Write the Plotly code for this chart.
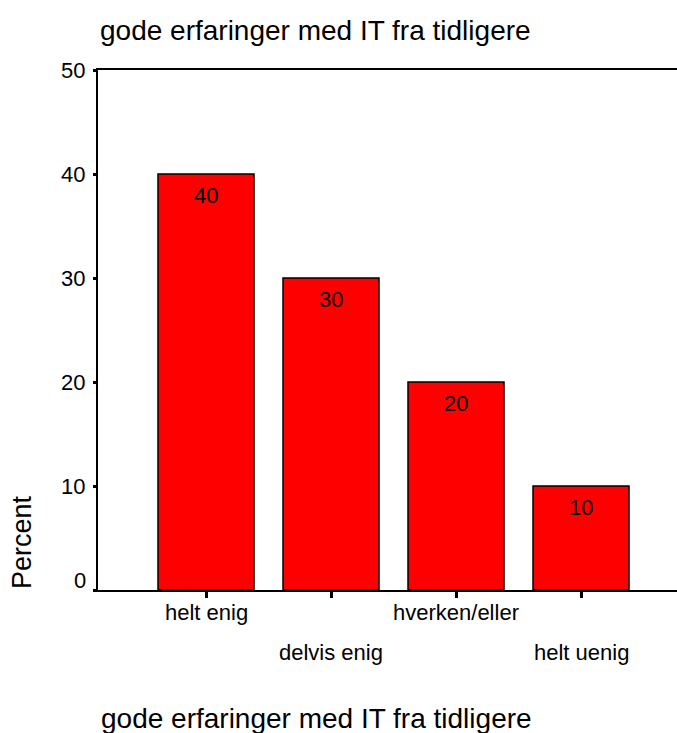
import plotly.graph_objects as go

categories = ["helt enig", "delvis enig", "hverken/eller", "helt uenig"]
percent = [40, 30, 20, 10]
y_ticks = [0, 10, 20, 30, 40, 50]
title_text = "gode erfaringer med IT fra tidligere"
y_title = "Percent"

FONT = "Liberation Sans, Arial, sans-serif"
idx = list(range(len(categories)))

fig = go.Figure()
fig.add_trace(go.Bar(
    x=idx, y=percent, width=0.768,
    marker=dict(color="#FF0000", line=dict(color="#000000", width=1.5)),
    hoverinfo="skip",
))

annotations = []
# value labels inside bars near top
for i, v in zip(idx, percent):
    annotations.append(dict(x=i, y=v, xref="x", yref="y", text=str(v), showarrow=False,
                            yanchor="middle", yshift=-21,
                            font=dict(family=FONT, size=22, color="black")))
# staggered category labels
for i, c in zip(idx, categories):
    annotations.append(dict(x=i, y=0, xref="x", yref="y", text=c, showarrow=False,
                            yanchor="middle", yshift=-22 if i % 2 == 0 else -62,
                            font=dict(family=FONT, size=22, color="black")))
# zero tick label (raised)
annotations.append(dict(x=0, y=0, xref="paper", yref="y", text=str(y_ticks[0]), showarrow=False,
                        xanchor="right", xshift=-10, yanchor="middle", yshift=10,
                        font=dict(family=FONT, size=22, color="black")))
# y axis title
annotations.append(dict(x=0, y=(590 - 542) / 520, xref="paper", yref="paper", text=y_title,
                        showarrow=False, textangle=-90, xanchor="center", yanchor="middle",
                        xshift=-76, font=dict(family=FONT, size=27, color="black")))
# bottom axis title
annotations.append(dict(x=0, y=0, xref="paper", yref="paper", text=title_text,
                        showarrow=False, xanchor="left", yanchor="middle", xshift=1, yshift=-128,
                        font=dict(family=FONT, size=28, color="black")))

fig.update_layout(
    width=677, height=733,
    margin=dict(l=98, r=0, t=70, b=143),
    paper_bgcolor="white", plot_bgcolor="white",
    showlegend=False,
    title=dict(text=title_text, x=100 / 677, xanchor="left", xref="container",
               y=1 - 30 / 733, yanchor="middle", yref="container",
               font=dict(family=FONT, size=28, color="black")),
    annotations=annotations,
    xaxis=dict(range=[-0.864, 3.768], tickvals=idx, ticktext=["" for _ in idx],
               showgrid=False, zeroline=False, showline=True, linecolor="black", linewidth=2,
               mirror=True, ticks="outside", ticklen=6, tickwidth=3, tickcolor="black"),
    yaxis=dict(range=[0, 50], tickvals=y_ticks,
               ticktext=[""] + [str(t) for t in y_ticks[1:]],
               showgrid=False, zeroline=False, showline=True, linecolor="black", linewidth=2,
               ticks="outside", ticklen=3, tickwidth=3, tickcolor="black",
               ticklabelstandoff=3,
               tickfont=dict(family=FONT, size=22, color="black")),
)

fig.write_html("out.html", config={"displayModeBar": False},
               post_script="document.body.style.margin='0';document.body.style.overflow='hidden';")
